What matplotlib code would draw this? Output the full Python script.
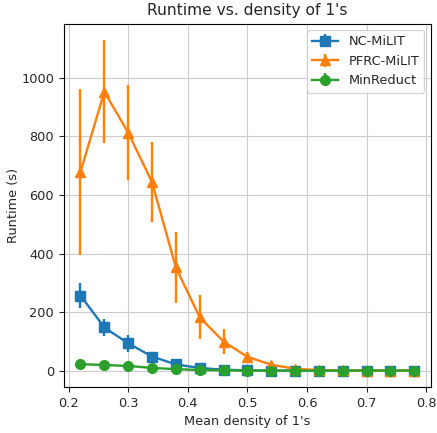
' Runtime vs. density of 1s, three solvers with error bars. '

import matplotlib
matplotlib.use('Agg')
import matplotlib.pyplot as plt

DENSITY = [0.22, 0.26, 0.30, 0.34, 0.38, 0.42, 0.46, 0.50,
           0.54, 0.58, 0.62, 0.66, 0.70, 0.74, 0.78]

NC_MEAN = [257, 148, 94, 49, 22, 10, 4, 2, 1, 1, 1, 1, 1, 1, 1]
NC_ERR = [43, 30, 30, 10, 5, 3, 2, 1, 0, 0, 0, 0, 0, 0, 0]

PFRC_MEAN = [678, 952, 812, 644, 353, 183, 100, 48, 21, 7, 3, 2, 1, 1, 1]
PFRC_ERR = [282, 175, 161, 136, 122, 75, 43, 16, 10, 6, 2, 1, 0, 0, 0]

MIN_MEAN = [23, 20, 17, 10, 6, 3, 2, 1, 1, 1, 1, 1, 1, 1, 1]
MIN_ERR = [3, 3, 3, 2, 1, 1, 0, 0, 0, 0, 0, 0, 0, 0, 0]

TEXT = '#262626'


def main():
    ' duh '
    plt.rcParams.update({'font.size': 9.3, 'text.color': TEXT,
                         'axes.labelcolor': TEXT, 'xtick.color': TEXT,
                         'ytick.color': TEXT})
    plt.figure(figsize=(4.37, 4.33), dpi=100)
    plt.errorbar(DENSITY, NC_MEAN, yerr=NC_ERR, marker='s', markersize=7,
                 linewidth=1.7, label='NC-MiLIT')
    plt.errorbar(DENSITY, PFRC_MEAN, yerr=PFRC_ERR, marker='^', markersize=7,
                 linewidth=1.7, label='PFRC-MiLIT')
    plt.errorbar(DENSITY, MIN_MEAN, yerr=MIN_ERR, marker='o', markersize=7,
                 linewidth=1.7, label='MinReduct')
    plt.title("Runtime vs. density of 1's", fontsize=11.2)
    plt.xlabel("Mean density of 1's")
    plt.ylabel('Runtime (s)', labelpad=1)
    plt.xticks([0.2, 0.3, 0.4, 0.5, 0.6, 0.7, 0.8])
    plt.grid(True, color='#cccccc')
    plt.legend(loc='upper right')
    plt.subplots_adjust(left=0.146, right=0.986, top=0.945, bottom=0.106)
    plt.savefig('out.png')


if __name__ == '__main__':
    main()
